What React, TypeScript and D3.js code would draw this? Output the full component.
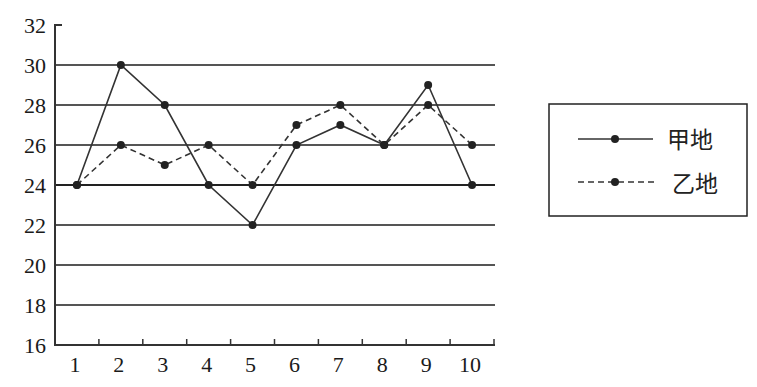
import React from "react";
import * as d3 from "d3";

const categories = [1, 2, 3, 4, 5, 6, 7, 8, 9, 10];
const seriesA = [24, 30, 28, 24, 22, 26, 27, 26, 29, 24];
const seriesB = [24, 26, 25, 26, 24, 27, 28, 26, 28, 26];
const yTicks = [16, 18, 20, 22, 24, 26, 28, 30, 32];
const gridValues = [18, 20, 22, 24, 26, 28, 30];
const legendLabels = ["甲地", "乙地"];

export default function App() {
  const W = 757, H = 387;
  const x = d3.scaleBand<number>().domain(categories).range([55, 494]);
  const y = d3.scaleLinear().domain([16, 32]).range([345, 25]);
  const cx = (c: number) => (x(c) as number) + x.bandwidth() / 2;
  const line = d3
    .line<number>()
    .x((_, i) => cx(categories[i]))
    .y((d) => y(d));
  const serif = "'Liberation Serif', 'DejaVu Serif', serif";
  const cjk = "'Noto Sans CJK SC', sans-serif";
  return (
    <svg width={W} height={H} style={{ position: "absolute", left: 0, top: 0, background: "#fff" }}>
      {gridValues.map((v) => (
        <line key={v} x1={55} x2={495} y1={y(v)} y2={y(v)} stroke={v === 24 ? "#222" : "#555"} strokeWidth={2} />
      ))}
      {/* axes */}
      <line x1={55} x2={55} y1={y(32)} y2={y(16)} stroke="#333" strokeWidth={2} />
      <line x1={54} x2={62} y1={y(32)} y2={y(32)} stroke="#333" strokeWidth={2} />
      <line x1={54} x2={495} y1={y(16)} y2={y(16)} stroke="#333" strokeWidth={2} />
      {categories.map((c) => (
        <line key={c} x1={(x(c) as number) + x.bandwidth()} x2={(x(c) as number) + x.bandwidth()} y1={y(16)} y2={y(16) - 6} stroke="#333" strokeWidth={1.5} />
      ))}
      {yTicks.map((v) => (
        <text key={v} x={46} y={y(v) + 8} textAnchor="end" fontFamily={serif} fontSize={22} fill="#1a1a1a">
          {v}
        </text>
      ))}
      {categories.map((c) => (
        <text key={c} x={cx(c) - 2} y={372} textAnchor="middle" fontFamily={serif} fontSize={22} fill="#1a1a1a">
          {c}
        </text>
      ))}
      <path d={line(seriesA) || ""} fill="none" stroke="#333" strokeWidth={1.6} />
      <path d={line(seriesB) || ""} fill="none" stroke="#333" strokeWidth={1.6} strokeDasharray="6,4" />
      {seriesA.map((v, i) => (
        <circle key={"a" + i} cx={cx(categories[i])} cy={y(v)} r={4} fill="#222" />
      ))}
      {seriesB.map((v, i) => (
        <circle key={"b" + i} cx={cx(categories[i])} cy={y(v)} r={4} fill="#222" />
      ))}
      {/* legend */}
      <rect x={549} y={104} width={198} height={112} fill="none" stroke="#222" strokeWidth={1.5} />
      <line x1={578} x2={653} y1={139} y2={139} stroke="#333" strokeWidth={1.6} />
      <circle cx={615} cy={139} r={4} fill="#222" />
      <line x1={578} x2={655} y1={182} y2={182} stroke="#333" strokeWidth={1.6} strokeDasharray="6,4" />
      <circle cx={615} cy={182} r={4} fill="#222" />
      <text x={667} y={148} fontFamily={cjk} fontSize={23} fill="#222">{legendLabels[0]}</text>
      <text x={672} y={192} fontFamily={cjk} fontSize={23} fill="#222">{legendLabels[1]}</text>
    </svg>
  );
}
